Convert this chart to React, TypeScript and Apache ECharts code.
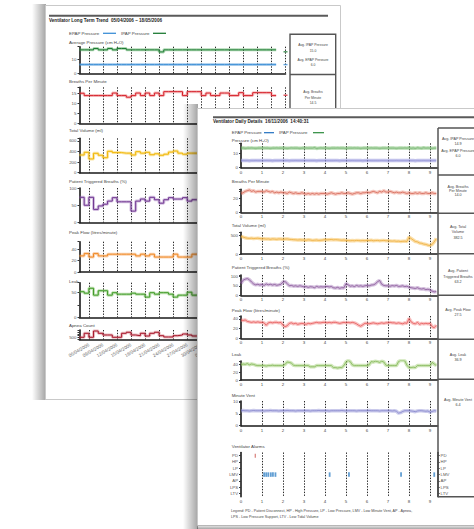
import React, { useEffect, useRef } from "react";
import * as echarts from "echarts";

// ---------------- Back page: long term trend (daily values) ----------------
const TREND_DATES = [
  "04/04/2006", "05/04/2006", "06/04/2006", "07/04/2006", "08/04/2006", "09/04/2006", "10/04/2006",
  "11/04/2006", "12/04/2006", "13/04/2006", "14/04/2006", "15/04/2006", "16/04/2006", "17/04/2006",
  "18/04/2006", "19/04/2006", "20/04/2006", "21/04/2006", "22/04/2006", "23/04/2006", "24/04/2006",
  "25/04/2006", "26/04/2006", "27/04/2006", "28/04/2006", "29/04/2006", "30/04/2006", "01/05/2006",
  "02/05/2006", "03/05/2006", "04/05/2006", "05/05/2006", "06/05/2006", "07/05/2006", "08/05/2006",
  "09/05/2006", "10/05/2006", "11/05/2006", "12/05/2006", "13/05/2006", "14/05/2006", "15/05/2006",
  "16/05/2006", "17/05/2006", "18/05/2006",
];
const TREND_TICK_DATES = [
  "06/04/2006", "09/04/2006", "12/04/2006", "15/04/2006", "18/04/2006", "21/04/2006", "24/04/2006",
  "27/04/2006", "30/04/2006", "03/05/2006", "06/05/2006", "09/05/2006", "12/05/2006", "15/05/2006",
  "18/05/2006",
];
const TREND_IPAP = [
  17, 17, 17, 18, 17, 17, 18, 17, 18, 18, 17, 17, 17, 17, 17, 17, 17, 15.5, 17, 17, 17, 17,
  17, 17, 17, 17, 17, 17, 17, 17, 17, 17, 17, 17, 17, 17, 17, 17, 17, 17, 17, 17, 17,
];
const TREND_EPAP = [
  6.3, 6.3, 6.3, 6.3, 6.3, 6.3, 6.3, 6.3, 6.3, 6.3, 6.3, 6.3, 6.3, 6.3, 6.3, 6.3, 6.3, 6.3, 6.3, 6.3, 6.3, 6.3,
  6.3, 6.3, 6.3, 6.3, 6.3, 6.3, 6.3, 6.3, 6.3, 6.3, 6.3, 6.3, 6.3, 6.3, 6.3, 6.3, 6.3, 6.3, 6.3, 6.3, 6.3,
];
const TREND_BREATHS = [
  15.2, 14, 14, 14, 14, 14, 14, 15.3, 14, 14, 13.2, 14, 15.3, 14, 15.3, 14, 15.3, 14, 16, 16, 16, 16,
  14, 16, 16, 16, 14, 15.3, 14, 14, 15.3, 15.3, 14, 14, 15.5, 14, 14, 15.5, 15.5, 15.5, 15.5, 14, 14,
];
const TREND_LAST_IPAP = 15.6;
const TREND_LAST_EPAP = 6.3;
const TREND_LAST_BREATHS = 14.2;
const TREND_VOLUME = [335, 386, 260, 367, 330, 284, 405, 380, 380, 370, 370, 335, 398, 370, 386, 340, 358, 330, 350, 390, 410, 370, 350, 370, 370, 360, 360];
const TREND_TRIGGERED = [73, 50, 73, 38, 48, 53, 62, 72, 60, 60, 60, 33, 62, 68, 62, 73, 66, 56, 66, 72, 68, 68, 72, 62, 66, 66, 66];
const TREND_PEAK_FLOW = [28, 32, 26, 32, 28, 28, 31, 31, 31, 31, 31, 31, 28, 31, 28, 31, 26, 26, 26, 26, 31, 26, 26, 26, 31, 31, 31];
const TREND_LEAK = [52, 49, 59, 45, 54, 54, 45, 50, 47, 47, 47, 49, 47, 47, 41, 50, 47, 50, 50, 47, 41, 45, 45, 51, 45, 45, 45];
const TREND_APNEA = [516, 726, 516, 847, 726, 637, 637, 516, 516, 726, 780, 637, 600, 726, 584, 726, 780, 600, 532, 532, 600, 637, 690, 637, 584, 584, 584];

// ---------------- Front page: daily details (samples every 6 minutes) ----------------
const DAY_HOURS = Array.from({ length: 94 }, (_, i) => i / 10);
const DAY_TICKS = [0, 1, 2, 3, 4, 5, 6, 7, 8, 9];
const DAY_IPAP = [
  13.8, 13.9, 13.7, 13.8, 13.8, 13.9, 13.8, 13.7, 13.8, 13.8,
  13.8, 13.9, 13.8, 13.8, 13.7, 13.8, 13.8, 13.9, 13.8, 13.8,
  13.8, 13.8, 13.7, 13.8, 13.9, 13.8, 13.8, 13.8, 13.7, 13.8,
  13.8, 13.9, 13.8, 13.8, 13.8, 14.1, 13.6, 13.8, 13.9, 13.8,
  13.8, 13.8, 13.7, 13.8, 13.8, 13.8, 13.9, 13.8, 13.8, 13.8,
  13.7, 13.8, 13.8, 13.8, 13.9, 13.8, 13.8, 13.7, 13.8, 13.8,
  13.8, 13.8, 13.9, 13.8, 13.8, 13.8, 13.7, 13.8, 13.8, 13.8,
  13.9, 13.8, 13.8, 13.8, 13.7, 13.8, 13.8, 13.8, 13.9, 13.8,
  14.0, 13.7, 13.9, 13.6, 14.0, 13.8, 13.7, 14.0, 13.8, 13.9,
  13.8, 13.7, 13.8, 13.8,
];
const DAY_EPAP = [
  5.0, 5.1, 5.0, 5.0, 4.9, 5.0, 5.0, 5.1, 5.0, 5.0,
  5.0, 5.0, 5.1, 5.0, 5.0, 4.9, 5.0, 5.0, 5.0, 5.1,
  5.0, 5.0, 5.0, 4.9, 5.0, 5.0, 5.1, 5.0, 5.0, 5.0,
  5.0, 5.1, 5.0, 5.0, 5.0, 5.0, 4.9, 5.0, 5.0, 5.0,
  5.1, 5.0, 5.0, 5.0, 5.0, 5.1, 5.0, 4.9, 5.0, 5.0,
  5.0, 5.0, 5.0, 5.1, 5.0, 5.0, 5.0, 5.0, 4.9, 5.0,
  5.0, 5.1, 5.0, 5.0, 5.0, 5.0, 5.0, 5.1, 5.0, 5.0,
  4.9, 5.0, 5.0, 5.0, 5.1, 5.0, 5.0, 5.0, 5.0, 5.0,
  5.1, 5.0, 5.0, 4.9, 5.0, 5.0, 5.0, 5.1, 5.0, 5.0,
  5.0, 5.0, 5.1, 5.0,
];
const DAY_BREATHS = [
  27, 28, 30, 31, 32, 30, 31, 29, 30, 30,
  30, 29, 31, 30, 29, 30, 28, 29, 28, 29,
  28, 28, 27, 29, 28, 27, 28, 27, 27, 28,
  27, 26, 27, 26, 27, 26, 27, 26, 27, 27,
  27, 26, 27, 28, 27, 26, 27, 27, 28, 27,
  27, 28, 27, 26, 27, 28, 28, 27, 28, 28,
  29, 28, 29, 30, 29, 28, 30, 29, 31, 29,
  29, 30, 29, 28, 29, 28, 28, 29, 28, 27,
  28, 27, 27, 28, 27, 28, 27, 27, 28, 27,
  27, 28, 27, 27,
];
const DAY_VOLUME = [
  480, 460, 440, 430, 425, 430, 420, 425, 430, 420,
  410, 415, 405, 410, 400, 410, 405, 400, 410, 405,
  400, 405, 410, 400, 395, 390, 385, 380, 385, 380,
  380, 375, 385, 380, 370, 375, 380, 370, 375, 380,
  390, 385, 390, 395, 385, 390, 385, 380, 375, 380,
  370, 365, 360, 365, 360, 370, 365, 360, 365, 360,
  370, 365, 375, 360, 365, 370, 360, 365, 370, 360,
  360, 355, 350, 355, 345, 350, 340, 345, 350, 340,
  460, 420, 380, 340, 330, 300, 290, 270, 260, 240,
  230, 260, 330, 420,
];
const DAY_TRIGGERED = [
  62, 80, 85, 88, 82, 70, 60, 55, 58, 54,
  57, 52, 60, 55, 58, 54, 57, 53, 55, 58,
  70, 72, 62, 50, 52, 48, 50, 47, 50, 48,
  44, 46, 42, 45, 44, 40, 47, 43, 45, 44,
  45, 47, 44, 46, 40, 38, 42, 37, 40, 39,
  62, 55, 48, 50, 46, 52, 48, 50, 47, 50,
  52, 50, 54, 55, 60, 72, 78, 58, 52, 50,
  50, 48, 51, 49, 52, 47, 48, 50, 46, 48,
  42, 40, 38, 36, 40, 35, 33, 35, 30, 32,
  28, 22, 18, 20,
];
const DAY_PEAK_FLOW = [
  38, 37, 38, 35, 34, 33, 34, 33, 34, 33,
  33, 32, 27, 32, 33, 32, 33, 33, 32, 33,
  27, 24, 26, 31, 32, 30, 31, 29, 30, 31,
  30, 29, 31, 30, 31, 32, 33, 32, 32, 33,
  33, 32, 33, 32, 33, 33, 32, 31, 32, 33,
  32, 33, 32, 33, 32, 30, 27, 25, 28, 31,
  31, 30, 31, 32, 31, 30, 31, 32, 31, 32,
  32, 33, 32, 32, 31, 32, 31, 30, 32, 31,
  41, 34, 31, 30, 33, 29, 31, 30, 31, 30,
  31, 24, 22, 27,
];
const DAY_LEAK = [
  38, 40, 39, 41, 38, 40, 39, 37, 36, 36,
  36, 36, 35, 36, 36, 37, 36, 36, 36, 36,
  36, 39, 45, 44, 42, 37, 36, 36, 36, 36,
  36, 36, 36, 33, 33, 33, 36, 36, 36, 36,
  36, 36, 36, 36, 31, 31, 30, 31, 31, 36,
  45, 49, 46, 38, 36, 36, 36, 36, 36, 36,
  36, 38, 46, 45, 47, 46, 44, 47, 45, 37,
  36, 36, 36, 36, 36, 46, 49, 49, 48, 37,
  31, 31, 32, 31, 36, 36, 36, 36, 36, 36,
  36, 44, 40, 36,
];
const DAY_MINUTE_VENT = [
  6.3, 6.4, 6.3, 6.3, 6.2, 6.3, 6.4, 6.3, 6.3, 6.3,
  6.3, 6.2, 6.3, 6.3, 6.4, 6.3, 6.3, 6.3, 6.2, 6.3,
  6.3, 6.3, 6.4, 6.3, 6.3, 6.3, 6.2, 6.3, 6.3, 6.3,
  6.3, 6.3, 6.3, 6.2, 6.3, 6.3, 6.3, 6.4, 6.3, 6.3,
  6.3, 6.3, 6.2, 6.3, 6.3, 6.3, 6.3, 6.3, 6.4, 6.3,
  6.2, 6.3, 6.3, 6.3, 6.3, 6.2, 6.3, 6.3, 6.3, 6.3,
  6.3, 6.4, 6.3, 6.3, 6.3, 6.3, 6.2, 6.3, 6.3, 6.3,
  6.3, 6.3, 6.2, 6.3, 6.1, 5.3, 5.5, 6.0, 6.3, 6.3,
  6.3, 6.2, 6.1, 5.9, 6.2, 6.3, 6.3, 6.2, 6.1, 6.2,
  5.7, 6.0, 6.3, 6.2,
];
const ALARM_TYPES = ["PD", "HP", "LP", "LMV", "AP", "LPS", "LTV"];
const ALARM_TIMES = [0.68, 1.1, 1.2, 1.3, 1.42, 1.52, 1.64, 4.22, 5.14, 7.62, 9.2];
const ALARM_CODES = ["PD", "LMV", "LMV", "LMV", "LMV", "LMV", "LMV", "LMV", "LMV", "LMV", "LMV"];

const FONT = "'Liberation Sans', Arial, sans-serif";

function text(t: string, x: number, y: number, size: number, z: number, o: any = {}) {
  const align = o.align || "left";
  return {
    type: "text",
    x,
    y,
    z,
    silent: true,
    style: {
      text: t,
      fontSize: size,
      fontFamily: FONT,
      fontWeight: o.bold ? "bold" : "normal",
      fill: o.color || "#444",
      textAlign: align,
      align,
      textVerticalAlign: "middle",
      verticalAlign: "middle",
    },
  };
}
function line(x1: number, y1: number, x2: number, y2: number, color: string, w: number, z: number) {
  return { type: "line", z, silent: true, shape: { x1, y1, x2, y2 }, style: { stroke: color, lineWidth: w } };
}
function rect(x: number, y: number, w: number, h: number, style: any, z: number) {
  return { type: "rect", z, silent: true, shape: { x, y, width: w, height: h }, style };
}

function buildOption() {
  const grid: any[] = [];
  const xAxis: any[] = [];
  const yAxis: any[] = [];
  const series: any[] = [];
  const dash = { color: "#111", width: 0.9, type: [1.4, 1.4] };
  const tickOn = (idx: number) => TREND_TICK_DATES.indexOf(TREND_DATES[idx]) >= 0;

  // ---------- back page panels ----------
  const BL = 79.5;
  const BW = 206;
  const backPanels = [
    { top: 46.7, axis: 73.3, min: 0, max: 19.3, interval: 10, labels: [0, 10] },
    { top: 87.3, axis: 123.3, min: 0, max: 18.2, interval: 5, labels: [0, 5, 10, 15] },
    { top: 138.3, axis: 172.7, min: 0, max: 651, interval: 200, labels: [0, 200, 400, 600] },
    { top: 188, axis: 222.5, min: 0, max: 100, interval: 50, labels: [0, 50, 100] },
    { top: 241.7, axis: 272, min: 0, max: 52.7, interval: 20, labels: [0, 20, 40] },
    { top: 282.7, axis: 317.3, min: 0, max: 70.3, interval: 25, labels: [0, 50] },
    { top: 330, axis: 339.5, min: 400, max: 900, interval: 100, labels: [500] },
  ];
  backPanels.forEach((p, i) => {
    grid.push({ left: BL, top: p.top, width: BW, height: p.axis - p.top });
    xAxis.push({
      type: "category",
      gridIndex: i,
      data: TREND_DATES,
      boundaryGap: false,
      z: 3,
      axisLine: { lineStyle: { color: "#1a1a1a", width: 1.6 } },
      axisTick: { show: false },
      axisLabel:
        i === 6
          ? { show: true, interval: (idx: number) => tickOn(idx), rotate: 30, fontSize: 4.6, color: "#666", fontFamily: FONT, margin: 5, hideOverlap: false }
          : { show: false },
      splitLine: { show: true, interval: (idx: number) => tickOn(idx), lineStyle: dash },
    });
    yAxis.push({
      type: "value",
      gridIndex: i,
      min: p.min,
      max: p.max,
      interval: p.interval,
      z: 3,
      axisLine: { show: true, lineStyle: { color: "#1a1a1a", width: 1.6 } },
      axisTick: { show: true, length: 2, lineStyle: { color: "#333" } },
      axisLabel: {
        fontSize: 4.4,
        color: "#555",
        fontFamily: FONT,
        margin: 3,
        formatter: (v: number) => (p.labels.indexOf(v) >= 0 ? String(v) : ""),
      },
      splitLine: { show: false },
    });
  });

  const backLine = (gi: number, data: number[], color: string, halo: string) => {
    series.push({
      type: "line", xAxisIndex: gi, yAxisIndex: gi, data, step: "end", symbol: "none", silent: true, z: 4,
      lineStyle: { color: halo, width: 3 },
    });
    series.push({
      type: "line", xAxisIndex: gi, yAxisIndex: gi, data, step: "end", symbol: "none", silent: true, z: 5,
      lineStyle: { color, width: 1 },
    });
  };
  const backLast = (gi: number, v: number, color: string) => {
    series.push({
      type: "scatter", xAxisIndex: gi, yAxisIndex: gi, data: [[TREND_DATES.length - 1, v]], symbol: "rect",
      symbolSize: [4, 1.4], itemStyle: { color }, silent: true, z: 5,
    });
  };
  backLine(0, TREND_IPAP, "#1e7b34", "rgba(80,170,90,0.45)");
  backLine(0, TREND_EPAP, "#3d8fd6", "rgba(90,160,220,0.45)");
  backLast(0, TREND_LAST_IPAP, "#1e7b34");
  backLast(0, TREND_LAST_EPAP, "#3d8fd6");
  backLine(1, TREND_BREATHS, "#d6202a", "rgba(230,80,80,0.35)");
  backLast(1, TREND_LAST_BREATHS, "#d6202a");
  backLine(2, TREND_VOLUME, "#f2b705", "rgba(245,200,60,0.45)");
  backLine(3, TREND_TRIGGERED, "#6f3590", "rgba(150,100,180,0.4)");
  backLine(4, TREND_PEAK_FLOW, "#f08a24", "rgba(245,160,90,0.45)");
  backLine(5, TREND_LEAK, "#3f9a27", "rgba(120,190,90,0.45)");
  backLine(6, TREND_APNEA, "#a8152a", "rgba(200,90,100,0.4)");

  // ---------- front page panels ----------
  const FL = 241;
  const FW = 196.6;
  const FMAX = 9.36;
  const frontPanels = [
    { top: 143.3, axis: 167.7, max: 17.2, interval: 10, labels: [0, 10] },
    { top: 189.3, axis: 212.3, max: 33, interval: 10, labels: [0, 20] },
    { top: 232.3, axis: 254, max: 590, interval: 250, labels: [0, 500] },
    { top: 275, axis: 295.3, max: 107, interval: 50, labels: [0, 50, 100] },
    { top: 316, axis: 338.3, max: 46.2, interval: 20, labels: [0, 20, 40] },
    { top: 361, axis: 380, max: 47.5, interval: 20, labels: [0, 20, 40] },
    { top: 401, axis: 425.7, max: 10.4, interval: 5, labels: [0, 5, 10] },
    { top: 452.5, axis: 496.7, max: 0, interval: 0, labels: [] },
  ];
  const fx0 = backPanels.length;
  frontPanels.forEach((p, k) => {
    const gi = fx0 + k;
    grid.push({ left: FL, top: p.top, width: FW, height: p.axis - p.top });
    xAxis.push({
      type: "value",
      gridIndex: gi,
      min: 0,
      max: FMAX,
      interval: 1,
      z: 26,
      axisLine: { lineStyle: { color: "#1a1a1a", width: 1.6 } },
      axisTick: { show: false },
      axisLabel: {
        fontSize: 4.4,
        color: "#444",
        fontFamily: FONT,
        margin: 2.5,
        formatter: (v: number) => (DAY_TICKS.indexOf(v) >= 0 ? String(v) : ""),
      },
      splitLine: { show: true, showMinLine: false, showMaxLine: false, lineStyle: dash },
    });
    if (k < 7) {
      yAxis.push({
        type: "value",
        gridIndex: gi,
        min: 0,
        max: p.max,
        interval: p.interval,
        z: 26,
        axisLine: { show: true, lineStyle: { color: "#1a1a1a", width: 1.6 } },
        axisTick: { show: true, length: 2, lineStyle: { color: "#333" } },
        axisLabel: {
          fontSize: 4.4,
          color: "#555",
          fontFamily: FONT,
          margin: 3,
          formatter: (v: number) => (p.labels.indexOf(v) >= 0 ? String(v) : ""),
        },
        splitLine: { show: false },
      });
    } else {
      const cat = (pos: string) => ({
        type: "category",
        gridIndex: gi,
        position: pos,
        data: ALARM_TYPES,
        inverse: true,
        boundaryGap: true,
        z: 26,
        axisLine: { show: true, onZero: false, lineStyle: { color: "#1a1a1a", width: 1.6 } },
        axisTick: { show: true, alignWithLabel: true, length: 2, lineStyle: { color: "#333" } },
        axisLabel: { fontSize: 4.3, color: "#555", fontFamily: FONT, margin: 3, interval: 0 },
        splitLine: { show: false },
      });
      yAxis.push(cat("left"));
      yAxis.push(cat("right"));
    }
  });

  const frontLine = (gi: number, vals: number[], color: string, halo: string) => {
    const data = DAY_HOURS.map((h, i) => [h, vals[i]]);
    series.push({
      type: "line", xAxisIndex: gi, yAxisIndex: gi, data, symbol: "none", silent: true, z: 27,
      lineStyle: { color: halo, width: 3.5 },
    });
    series.push({
      type: "line", xAxisIndex: gi, yAxisIndex: gi, data, symbol: "none", silent: true, z: 28,
      lineStyle: { color, width: 0.8 },
    });
  };
  frontLine(fx0, DAY_IPAP, "rgba(60,140,60,0.55)", "rgba(130,195,120,0.6)");
  frontLine(fx0, DAY_EPAP, "rgba(110,110,200,0.45)", "rgba(160,160,225,0.65)");
  frontLine(fx0 + 1, DAY_BREATHS, "rgba(200,60,40,0.7)", "rgba(232,130,110,0.45)");
  frontLine(fx0 + 2, DAY_VOLUME, "rgba(235,160,30,0.8)", "rgba(247,190,80,0.5)");
  frontLine(fx0 + 3, DAY_TRIGGERED, "rgba(110,50,130,0.75)", "rgba(160,115,180,0.45)");
  frontLine(fx0 + 4, DAY_PEAK_FLOW, "rgba(225,60,60,0.8)", "rgba(242,120,120,0.45)");
  frontLine(fx0 + 5, DAY_LEAK, "rgba(110,170,60,0.8)", "rgba(160,205,115,0.5)");
  frontLine(fx0 + 6, DAY_MINUTE_VENT, "rgba(100,100,190,0.7)", "rgba(150,150,215,0.5)");

  const alarmGrid = fx0 + 7;
  ["PD", "LMV"].forEach((code) => {
    const data = ALARM_TIMES.map((t, i) => (ALARM_CODES[i] === code ? [t, code] : null)).filter((d) => d);
    series.push({
      type: "scatter",
      xAxisIndex: alarmGrid,
      yAxisIndex: backPanels.length + 7,
      data,
      symbol: "rect",
      symbolSize: code === "PD" ? [1.2, 4] : [1.8, 4.5],
      itemStyle: { color: code === "PD" ? "#d0605a" : "#3a86c8" },
      silent: true,
      z: 28,
    });
  });

  // ---------- graphics: pages, titles, legends, boxes ----------
  const shadowH = new echarts.graphic.LinearGradient(0, 0, 1, 0, [
    { offset: 0, color: "rgba(0,0,0,0)" },
    { offset: 1, color: "rgba(0,0,0,0.36)" },
  ]);
  const shadowH2 = new echarts.graphic.LinearGradient(0, 0, 1, 0, [
    { offset: 0, color: "rgba(0,0,0,0)" },
    { offset: 1, color: "rgba(0,0,0,0.36)" },
  ]);
  const shadowV = new echarts.graphic.LinearGradient(0, 0, 0, 1, [
    { offset: 0, color: "rgba(0,0,0,0.05)" },
    { offset: 1, color: "rgba(0,0,0,0.35)" },
  ]);
  const g: any[] = [];
  // back page
  g.push(rect(32, 4, 14, 396, { fill: shadowH }, 0));
  g.push(rect(45.5, 5.5, 295, 394, { fill: "#fff", stroke: "#c9c9c9", lineWidth: 1 }, 1));
  g.push(line(49, 15.7, 328, 15.7, "#5a5a5a", 2, 2));
  g.push(text("Ventilator Long Term Trend  05/04/2006 \u2013 18/05/2006", 49, 20.2, 4.6, 2, { bold: true, color: "#222" }));
  g.push(text("EPAP Pressure", 69, 33.3, 4.4, 2));
  g.push(line(103, 33.3, 116, 33.3, "#3d8fd6", 1.3, 2));
  g.push(text("IPAP Pressure", 121, 33.3, 4.4, 2));
  g.push(line(153, 33.3, 166, 33.3, "#1e7b34", 1.3, 2));
  const backTitles: [string, number][] = [
    ["Average Pressure (cm H\u2082O)", 42.3],
    ["Breaths Per Minute", 81],
    ["Total Volume (ml)", 130],
    ["Patient Triggered Breaths (%)", 181],
    ["Peak Flow (litres/minute)", 232.3],
    ["Leak", 281],
    ["Apnea Count", 325.3],
  ];
  backTitles.forEach(([t, y]) => g.push(text(t, 69, y, 4.4, 2)));
  g.push(rect(290, 34.3, 45.7, 90, { fill: "none", stroke: "#555", lineWidth: 1.4 }, 2));
  g.push(line(290, 74.5, 335.7, 74.5, "#555", 1.4, 2));
  const backBox: [string, number][] = [
    ["Avg. IPAP Pressure", 45.3],
    ["15.0", 50.7],
    ["Avg. EPAP Pressure", 60],
    ["6.0", 65.3],
    ["Avg. Breaths", 92.3],
    ["Per Minute", 97.7],
    ["14.5", 103],
  ];
  backBox.forEach(([t, y]) => g.push(text(t, 313, y, 3.4, 2, { align: "center" })));

  // front page
  g.push(rect(183, 104, 15, 425, { fill: shadowH2 }, 20));
  g.push(rect(197.5, 108.5, 290, 417, { fill: "#fff", stroke: "#c9c9c9", lineWidth: 1 }, 21));
  g.push(rect(197, 525, 277, 4, { fill: shadowV }, 21));
  g.push(line(213, 117.3, 474, 117.3, "#5a5a5a", 2, 22));
  g.push(text("Ventilator Daily Details  16/11/2006  14:40:31", 213, 121.5, 4.6, 22, { bold: true, color: "#222" }));
  g.push(text("EPAP Pressure", 231.7, 132.7, 4.4, 22));
  g.push(line(264, 132.7, 274, 132.7, "#1f6fc0", 1.2, 22));
  g.push(text("IPAP Pressure", 279, 132.7, 4.4, 22));
  g.push(line(313, 132.7, 324, 132.7, "#2a8a3a", 1.2, 22));
  const frontTitles: [string, number][] = [
    ["Pressure (cm H\u2082O)", 140],
    ["Breaths Per Minute", 181.7],
    ["Total Volume (ml)", 225.7],
    ["Patient Triggered Breaths (%)", 267.7],
    ["Peak Flow (litres/minute)", 310.7],
    ["Leak", 354.3],
    ["Minute Vent", 395.7],
    ["Ventilator Alarms", 446],
  ];
  frontTitles.forEach(([t, y]) => g.push(text(t, 231.7, y, 4.4, 22)));
  // avg boxes
  g.push(line(438, 128, 438, 497, "#555", 1.5, 29));
  [128, 175, 213.3, 253.7, 295.3, 339.3, 379.3, 496.7].forEach((y) => g.push(line(438, y, 474, y, "#555", 1.5, 29)));
  const frontBox: [string, number][] = [
    ["Avg. IPAP Pressure", 139.3],
    ["14.9", 144.3],
    ["Avg. EPAP Pressure", 151],
    ["6.0", 156],
    ["Avg. Breaths", 186.8],
    ["Per Minute", 191],
    ["14.0", 195.2],
    ["Avg. Total", 226.7],
    ["Volume", 232.3],
    ["382.5", 238],
    ["Avg. Patient", 271.3],
    ["Triggered Breaths", 276.7],
    ["63.2", 282.3],
    ["Avg. Peak Flow", 310],
    ["27.5", 315.3],
    ["Avg. Leak", 355],
    ["36.9", 359.7],
    ["Avg. Minute Vent", 400],
    ["6.4", 405.3],
  ];
  frontBox.forEach(([t, y]) => g.push(text(t, 458, y, 3.7, 29, { align: "center" })));
  g.push(text("Legend: PD - Patient Disconnect, HP - High Pressure, LP - Low Pressure, LMV - Low Minute Vent, AP - Apnea,", 231, 511, 3.7, 29));
  g.push(text("LPS - Low Pressure Support, LTV - Low Tidal Volume", 231, 516.7, 3.7, 29));

  return {
    animation: false,
    backgroundColor: "#ffffff",
    grid,
    xAxis,
    yAxis,
    series,
    graphic: { elements: g },
  };
}

export default function App() {
  const ref = useRef<HTMLDivElement>(null);
  useEffect(() => {
    const chart = echarts.init(ref.current as HTMLDivElement, null, { renderer: "svg" });
    chart.setOption(buildOption() as any);
    return () => chart.dispose();
  }, []);
  return <div ref={ref} style={{ position: "fixed", left: 0, top: 0, width: 474, height: 529 }} />;
}
